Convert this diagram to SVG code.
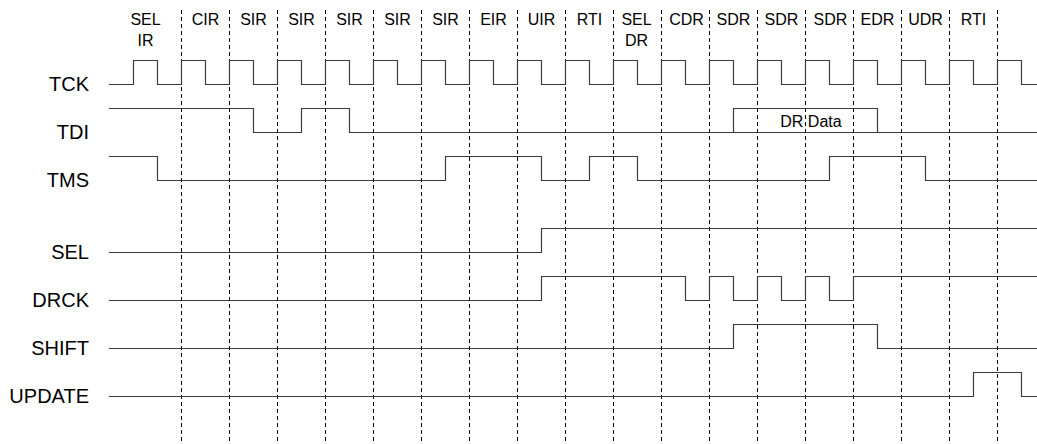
<svg xmlns="http://www.w3.org/2000/svg" width="1037" height="444" viewBox="0 0 1037 444">
<style>
.grid{stroke:#000;stroke-width:1;stroke-dasharray:4,3;fill:none}
.sig{stroke:#3c3c3c;stroke-width:1.2;fill:none}
.lbl{font-family:"Liberation Sans",Arial,sans-serif;font-size:20px;fill:#000;text-anchor:end}
.st{font-family:"Liberation Sans",Arial,sans-serif;font-size:16px;fill:#000;text-anchor:middle}
</style>
<rect width="1037" height="444" fill="#fff"/>
<g id="grid">
<path class="grid" d="M181.5 10V444M229.5 10V444M277.5 10V444M325.5 10V444M373.5 10V444M421.5 10V444M469.5 10V444M517.5 10V444M565.5 10V444M613.5 10V444M661.5 10V444M709.5 10V444M757.5 10V444M805.5 10V444M853.5 10V444M901.5 10V444M949.5 10V444M997.5 10V444"/>
</g>
<g id="states">
<text class="st" x="145.5" y="25">SEL</text><text class="st" x="145.5" y="46">IR</text>
<text class="st" x="205.5" y="25">CIR</text>
<text class="st" x="253.5" y="25">SIR</text>
<text class="st" x="301.5" y="25">SIR</text>
<text class="st" x="349.5" y="25">SIR</text>
<text class="st" x="397.5" y="25">SIR</text>
<text class="st" x="445.5" y="25">SIR</text>
<text class="st" x="493.5" y="25">EIR</text>
<text class="st" x="541.5" y="25">UIR</text>
<text class="st" x="589.5" y="25">RTI</text>
<text class="st" x="636.5" y="25">SEL</text><text class="st" x="636.5" y="46">DR</text>
<text class="st" x="686.5" y="25">CDR</text>
<text class="st" x="733.5" y="25">SDR</text>
<text class="st" x="781.5" y="25">SDR</text>
<text class="st" x="830.5" y="25">SDR</text>
<text class="st" x="877.5" y="25">EDR</text>
<text class="st" x="925.5" y="25">UDR</text>
<text class="st" x="973.5" y="25">RTI</text>
</g>
<g id="TCK">
<text class="lbl" x="89" y="91">TCK</text>
<path class="sig" d="M109 84.5H133.5V60.5H157.5V84.5H181.5V60.5H205.5V84.5H229.5V60.5H253.5V84.5H277.5V60.5H301.5V84.5H325.5V60.5H349.5V84.5H373.5V60.5H397.5V84.5H421.5V60.5H445.5V84.5H469.5V60.5H493.5V84.5H517.5V60.5H541.5V84.5H565.5V60.5H589.5V84.5H613.5V60.5H637.5V84.5H661.5V60.5H685.5V84.5H709.5V60.5H733.5V84.5H757.5V60.5H781.5V84.5H805.5V60.5H829.5V84.5H853.5V60.5H877.5V84.5H901.5V60.5H925.5V84.5H949.5V60.5H973.5V84.5H997.5V60.5H1021.5V84.5H1037"/>
</g>
<g id="TDI">
<text class="lbl" x="89" y="139">TDI</text>
<path class="sig" d="M109 108.5H253.5V132.5H301.5V108.5H349.5V132.5H1037M733.5 132.5V108.5H877.5V132.5"/>
<text class="st" x="811" y="127">DR Data</text>
</g>
<g id="TMS">
<text class="lbl" x="89" y="187">TMS</text>
<path class="sig" d="M109 156.5H157.5V180.5H445.5V156.5H541.5V180.5H589.5V156.5H637.5V180.5H829.5V156.5H925.5V180.5H1037"/>
</g>
<g id="SEL">
<text class="lbl" x="89" y="259">SEL</text>
<path class="sig" d="M109 252.5H541.5V228.5H1037"/>
</g>
<g id="DRCK">
<text class="lbl" x="89" y="307">DRCK</text>
<path class="sig" d="M109 300.5H541.5V276.5H685.5V300.5H709.5V276.5H733.5V300.5H757.5V276.5H781.5V300.5H805.5V276.5H829.5V300.5H853.5V276.5H1037"/>
</g>
<g id="SHIFT">
<text class="lbl" x="89" y="355">SHIFT</text>
<path class="sig" d="M109 348.5H733.5V324.5H877.5V348.5H1037"/>
</g>
<g id="UPDATE">
<text class="lbl" x="89" y="403">UPDATE</text>
<path class="sig" d="M109 396.5H973.5V372.5H1021.5V396.5H1037"/>
</g>
</svg>
